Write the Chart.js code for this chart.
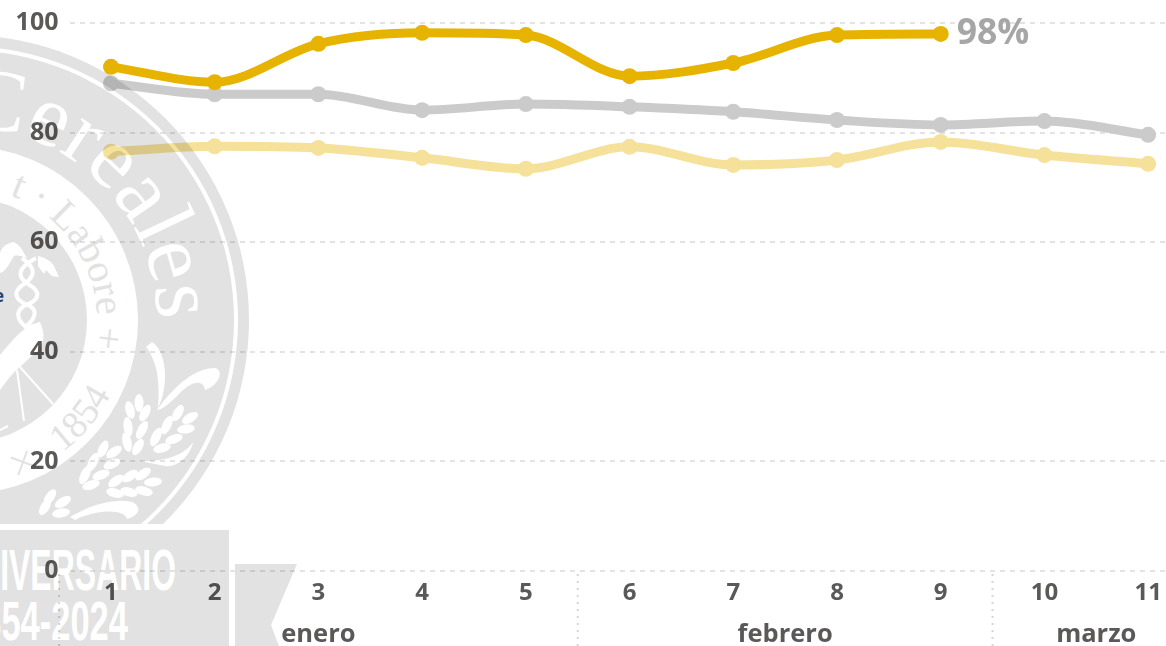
<!DOCTYPE html>
<html lang="es"><head><meta charset="utf-8">
<script src="https://cdn.jsdelivr.net/npm/chart.js@4"></script>
<style>
html,body{margin:0;padding:0;background:#fff;overflow:hidden}
#stage{position:relative;width:1166px;height:646px;overflow:hidden;background:#fff}
#seal{position:absolute;left:0;top:0}
#chart{position:absolute;left:0;top:0;mix-blend-mode:multiply}
</style></head><body>
<div id="stage">
<svg id="seal" width="1166" height="646" viewBox="0 0 1166 646" aria-hidden="true">
  <defs>
    <path id="arcCereales" d="M -172.5 183.5 A 193 193 0 0 1 157 320"/>
    <path id="arcLabore" d="M -130 226 A 133 133 0 0 1 94 348"/>
    <path id="arc1854" d="M 20 475 A 165 165 0 0 0 126 349"/>
    <clipPath id="sealClip"><rect x="0" y="0" width="300" height="524"/></clipPath>
  </defs>
  <g clip-path="url(#sealClip)">
    <circle cx="-36" cy="320" r="285" fill="#e2e2e2"/>
    <circle cx="-36" cy="320" r="274" fill="#fff"/>
    <circle cx="-36" cy="320" r="270" fill="#e2e2e2"/>
    <circle cx="-36" cy="320" r="174" fill="#fff"/>
    <circle cx="-36" cy="320" r="123" fill="#e2e2e2"/>
    <text font-family="Liberation Serif" font-size="88" fill="#fff"><textPath href="#arcCereales" startOffset="100%" text-anchor="end">Cereales</textPath></text>
    <text font-family="Liberation Serif" font-size="40" fill="#e2e2e2"><textPath href="#arcLabore" startOffset="100%" text-anchor="end">t · Labore  +</textPath></text>
    <text font-family="Liberation Serif" font-size="38" fill="#e2e2e2"><textPath href="#arc1854" startOffset="50%" text-anchor="middle">1854</textPath></text>
    <path d="M 23 450 L 23 476 M 10 462 L 36 462" stroke="#e2e2e2" stroke-width="2" transform="rotate(20 23 462)"/>
    <g fill="#fff">
      <path d="M 13 242 C 4 244 0 250 0 254 L 0 273 C 6 272 10 262 14 256 C 18 255 22 256 27 258 C 22 250 20 244 13 242 Z"/>
      <path d="M 38 256 C 46 258 52 262 54 266 L 59 277 L 52 276 L 46 270 L 44 274 L 38 266 Z"/>
      <path d="M 0 355 C 12 340 22 330 30 325 L 40 322 C 46 335 44 345 36 352 L 20 367 C 10 375 4 385 0 390 Z"/>
    </g>
    <g fill="none" stroke="#fff">
      <path stroke-width="4" d="M 22 258 C 36 268 36 276 24 284 C 12 292 14 300 30 306 C 40 312 32 322 24 328"/>
      <path stroke-width="4" d="M 36 258 C 18 268 16 276 28 284 C 42 292 40 300 24 306 C 14 312 18 322 28 328"/>
      <path stroke-width="2" d="M 20 367 L 53 404 M 17 370 L 24 421 M 0 430 L 8 426"/>
    </g>
    <g fill="#fff">
      <path d="M 157 410 C 175 385 195 368 215 368 C 224 370 220 385 205 390 C 203 378 190 382 178 395 C 170 403 162 410 157 410 Z"/>
      <path d="M 152 342 C 166 350 170 385 158 408 C 160 385 158 362 146 347 Z"/>
      <path d="M 140 461 C 165 462 185 455 193 442 C 190 458 175 468 165 466 Z"/>
      <path d="M 70 517 C 90 505 115 498 132 502 C 142 506 140 516 127 519 C 125 510 100 508 75 520 Z"/>
      <ellipse cx="139" cy="403" rx="4.5" ry="9"/>
      <ellipse cx="130" cy="410" rx="4.5" ry="9" transform="rotate(-15 130 410)"/>
      <ellipse cx="145" cy="413" rx="4.5" ry="9" transform="rotate(28 145 413)"/>
      <ellipse cx="128" cy="427" rx="4.5" ry="10" transform="rotate(-8 128 427)"/>
      <ellipse cx="142" cy="430" rx="4.5" ry="10" transform="rotate(28 142 430)"/>
      <ellipse cx="127" cy="442" rx="4.5" ry="10" transform="rotate(-12 127 442)"/>
      <ellipse cx="138" cy="447" rx="4.5" ry="9" transform="rotate(30 138 447)"/>
      <ellipse cx="178" cy="413" rx="4.5" ry="9" transform="rotate(30 178 413)"/>
      <ellipse cx="190" cy="418" rx="4.5" ry="9" transform="rotate(60 190 418)"/>
      <ellipse cx="167" cy="425" rx="4.5" ry="10" transform="rotate(25 167 425)"/>
      <ellipse cx="186" cy="429" rx="4.5" ry="9" transform="rotate(82 186 429)"/>
      <ellipse cx="156" cy="437" rx="4.5" ry="10" transform="rotate(25 156 437)"/>
      <ellipse cx="174" cy="439" rx="4.5" ry="9" transform="rotate(72 174 439)"/>
      <ellipse cx="162" cy="448" rx="4.5" ry="9" transform="rotate(75 162 448)"/>
      <ellipse cx="103" cy="449" rx="4.5" ry="9" transform="rotate(25 103 449)"/>
      <ellipse cx="114" cy="452" rx="4.5" ry="9" transform="rotate(55 114 452)"/>
      <ellipse cx="93" cy="462" rx="4.5" ry="10" transform="rotate(25 93 462)"/>
      <ellipse cx="112" cy="464" rx="4.5" ry="9" transform="rotate(65 112 464)"/>
      <ellipse cx="85" cy="475" rx="4.5" ry="10" transform="rotate(25 85 475)"/>
      <ellipse cx="101" cy="475" rx="4.5" ry="9" transform="rotate(70 101 475)"/>
      <ellipse cx="91" cy="485" rx="4.5" ry="9" transform="rotate(72 91 485)"/>
      <ellipse cx="143" cy="474" rx="4.5" ry="9" transform="rotate(55 143 474)"/>
      <ellipse cx="130" cy="476" rx="4.5" ry="9" transform="rotate(55 130 476)"/>
      <ellipse cx="116" cy="481" rx="4.5" ry="9" transform="rotate(55 116 481)"/>
      <ellipse cx="153" cy="482" rx="4.5" ry="9" transform="rotate(85 153 482)"/>
      <ellipse cx="144" cy="491" rx="4.5" ry="9" transform="rotate(105 144 491)"/>
      <ellipse cx="129" cy="492" rx="4.5" ry="9" transform="rotate(105 129 492)"/>
      <ellipse cx="115" cy="493" rx="4.5" ry="9" transform="rotate(105 115 493)"/>
      <ellipse cx="50" cy="497" rx="4.5" ry="9" transform="rotate(35 50 497)"/>
      <ellipse cx="63" cy="502" rx="4.5" ry="9" transform="rotate(60 63 502)"/>
      <ellipse cx="45" cy="507" rx="4.5" ry="9" transform="rotate(30 45 507)"/>
      <ellipse cx="61" cy="513" rx="4.5" ry="9" transform="rotate(80 61 513)"/>
    </g>
    <text x="-6" y="302" font-family="Open Sans" font-weight="bold" font-size="17" fill="#26406e">e</text>
  </g>
  <rect x="0" y="530" width="229" height="116" fill="#e2e2e2"/>
  <polygon points="235,564 297,564 271,625 279,646 235,646" fill="#e2e2e2"/>
  <text x="-46" y="590" font-family="Liberation Sans" font-weight="bold" font-size="58" fill="#fff" textLength="222" lengthAdjust="spacingAndGlyphs">ANIVERSARIO</text>
  <text x="-37" y="640" font-family="Liberation Sans" font-weight="bold" font-size="55" fill="#fff" textLength="165" lengthAdjust="spacingAndGlyphs">1854-2024</text>
</svg>
<canvas id="chart" width="1208" height="646"></canvas>
</div>
<script>
const days = [1,2,3,4,5,6,7,8,9,10,11];
const goldSeries = [92,89.2,96.2,98.2,97.8,90.3,92.7,97.8,98,null,null];
const graySeries = [89,87,87,84.1,85.2,84.7,83.8,82.3,81.4,82.1,79.6];
const paleSeries = [76.5,77.5,77.2,75.4,73.4,77.4,74.1,75,78.3,75.9,74.3];
const yTicks = [0,20,40,60,80,100];
const months = ['enero','febrero','marzo'];
const monthCentres = [3,7.5,10.5];
const monthEdges = [0.5,5.5,9.5];
const lastLabel = '98%';

const pts = a => days.map((d,i)=>({x:d,y:a[i]}));
const textCol = '#5b5957';
const font = 'Open Sans';
const ds = (label,data,color,order) => ({label,data:pts(data),borderColor:color,backgroundColor:color,
  borderWidth:9,pointRadius:8,pointHoverRadius:8,pointBorderWidth:0,cubicInterpolationMode:'monotone',order,xAxisID:'x',yAxisID:'y'});
const noPad = s => {s.paddingTop=0;s.paddingBottom=0;s.paddingLeft=0;s.paddingRight=0;};

const extras = {
  id:'extras',
  afterDatasetsDraw(c){
    const g=c.ctx, a=c.scales.x, top=c.scales.y.bottom;
    g.save();
    g.strokeStyle='#d6d6d6'; g.lineWidth=2; g.setLineDash([2,5]);
    monthEdges.forEach(v=>{const px=a.getPixelForValue(v);
      g.beginPath(); g.moveTo(px,top+3); g.lineTo(px,646); g.stroke();});
    const p=c.getDatasetMeta(0).data[8];
    g.setLineDash([]);
    g.font='bold 35.5px "'+font+'"'; g.fillStyle='#a6a6a6';
    g.textAlign='left'; g.textBaseline='middle';
    g.fillText(lastLabel,p.x+16,p.y);
    g.restore();
  }
};

new Chart(document.getElementById('chart'),{
  type:'line',
  data:{datasets:[
    ds('Actual',goldSeries,'#e6b400',1),
    ds('Promedio',graySeries,'#cbcbcb',2),
    ds('Anterior',paleSeries,'#f5e19a',3)
  ]},
  plugins:[extras],
  options:{
    responsive:false,animation:false,
    layout:{padding:{top:23,left:0,right:0,bottom:0}},
    plugins:{legend:{display:false},tooltip:{enabled:false}},
    scales:{
      y:{type:'linear',min:0,max:100,
        afterBuildTicks(s){s.ticks=yTicks.map(v=>({value:v}));},
        afterFit(s){s.width=69.5;noPad(s);},
        grid:{color:'#e3e3e3',lineWidth:2,drawTicks:false},
        border:{display:false,dash:[5,5]},
        ticks:{color:textCol,padding:11,font:{family:font,weight:'bold',size:25}}},
      x:{type:'linear',position:'bottom',min:0.6,max:11.5,
        afterBuildTicks(s){s.ticks=days.map(v=>({value:v}));},
        afterFit(s){s.height=40;noPad(s);},
        grid:{display:false},border:{display:false},
        ticks:{color:textCol,padding:0,maxRotation:0,autoSkip:false,font:{family:font,weight:'bold',size:24}}},
      x2:{type:'linear',position:'bottom',min:0.6,max:11.5,
        afterBuildTicks(s){s.ticks=monthCentres.map(v=>({value:v}));},
        afterFit(s){s.height=35;noPad(s);},
        grid:{display:false},border:{display:false},
        ticks:{color:textCol,padding:0,maxRotation:0,autoSkip:false,font:{family:font,weight:'bold',size:25.5},
          callback(v){return months[monthCentres.indexOf(v)];}}}
    }
  }
});
</script>
</body></html>
